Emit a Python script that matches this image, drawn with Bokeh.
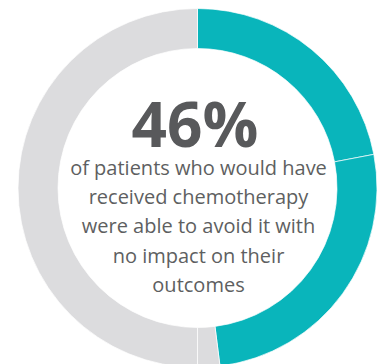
import numpy as np
from bokeh.plotting import figure
from bokeh.models import Range1d, ColumnDataSource
from bokeh.core.properties import value
from bokeh.embed import file_html
from bokeh.resources import INLINE

# data (percent of the ring, clockwise from 12 o'clock)
segments = ["Avoided A", "Avoided B", "Other A", "Other B"]
shares = [22, 26, 2, 50]
seg_colors = ["#09B5BB", "#09B5BB", "#DCDCDE", "#DCDCDE"]
headline = "46%"
body_lines = ["of patients who would have", "received chemotherapy",
              "were able to avoid it with", "no impact on their", "outcomes"]

W, H = 378, 364
cx, cy = 197, H - 187.5
r_out, r_in = 179.5, 139.5

frac = np.array(shares, dtype=float) / sum(shares)
cum = np.concatenate([[0], np.cumsum(frac)])
start = np.pi / 2 - cum[1:] * 2 * np.pi
end = np.pi / 2 - cum[:-1] * 2 * np.pi

src = ColumnDataSource(dict(seg=segments, start=start, end=end, color=seg_colors))

p = figure(width=W, height=H, output_backend="svg", toolbar_location=None,
           x_range=Range1d(0, W), y_range=Range1d(0, H), min_border=0)
p.axis.visible = False
p.grid.visible = False
p.outline_line_color = None
p.background_fill_color = "white"
p.border_fill_color = "white"

p.annular_wedge(x=cx, y=cy, inner_radius=r_in, outer_radius=r_out,
                start_angle="start", end_angle="end", direction="anticlock",
                fill_color="color", line_color="white", line_width=1, line_alpha=0.7,
                source=src)

p.text(x=[194.5], y=[H - 122], text=[headline], text_font=value("Open Sans"),
       text_font_style="bold", text_font_size="62px", text_color="#58595B",
       text_align="center", text_baseline="alphabetic")

baselines = [166.5, 196, 225, 254.5, 284]
p.text(x=[198] * len(body_lines), y=[H - b for b in baselines], text=body_lines,
       text_font=value("Open Sans"), text_font_size="20px", text_color="#5E5F61",
       text_align="center", text_baseline="alphabetic")

open("out.html", "w").write(file_html(p, INLINE))
